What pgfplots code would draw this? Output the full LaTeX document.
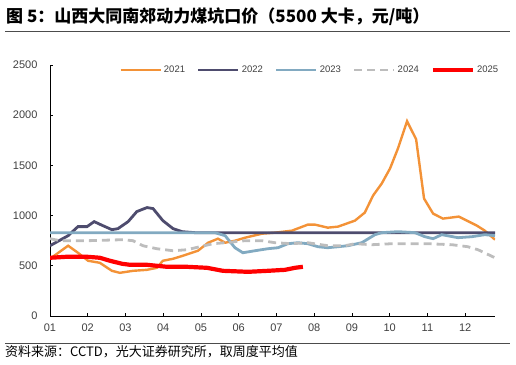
\documentclass[border=0pt]{standalone}
\usepackage{fontspec}
\usepackage{pgfplots}
\pgfplotsset{compat=1.18}
\setmainfont{Liberation Sans}
\newfontfamily\cjk{Noto Sans CJK SC}
\definecolor{c21}{HTML}{F39237}
\definecolor{c22}{HTML}{4E4C6E}
\definecolor{c23}{HTML}{82AAC1}
\definecolor{c24}{HTML}{BDBDBD}
\definecolor{c25}{HTML}{FF0000}
\definecolor{tickc}{HTML}{404040}
\begin{document}
\begin{tikzpicture}
\path[use as bounding box] (0pt,0pt) rectangle (516pt,364pt);
\node[anchor=west,inner sep=0pt,font=\cjk\bfseries\fontsize{17}{20}\selectfont] at (6pt,347pt) {图 5：山西大同南郊动力煤坑口价（5500 大卡，元/吨）};
\draw[line width=1pt,color=black!70] (5pt,332pt) -- (510pt,332pt);
\draw[line width=0.8pt,color=black!70] (5pt,21pt) -- (510pt,21pt);
\node[anchor=west,inner sep=0pt,font=\cjk\fontsize{13}{15}\selectfont] at (5pt,12pt) {资料来源：CCTD，光大证券研究所，取周度平均值};
\begin{axis}[
  scale only axis, width=445pt, height=251pt,
  anchor=south west, at={(50pt,48pt)},
  xmin=0, xmax=11.79, ymin=0, ymax=2500,
  axis x line*=bottom, axis y line*=left,
  axis line style={black, line width=0.9pt},
  tick align=inside,
  major tick length=3pt,
  tick style={black, line width=0.8pt},
  xtick={0,1,2,3,4,5,6,7,8,9,10,11},
  xticklabels={01,02,03,04,05,06,07,08,09,10,11,12},
  ytick={0,500,1000,1500,2000,2500},
  /pgf/number format/assume math mode=true,
  /pgf/number format/set thousands separator={},
  tick label style={font=\fontsize{11}{13}\selectfont, text=tickc},
  yticklabel style={xshift=-9pt},
  xticklabel style={yshift=-4pt},
  legend columns=5,
  legend style={draw=none, fill=none, at={(0.584,0.98)}, anchor=center,
    font=\fontsize{9.5}{11}\selectfont, text=tickc,
    /tikz/every even column/.append style={column sep=10pt}},
  legend image code/.code={\draw[#1] (0pt,0pt) -- (40pt,0pt);},
]
\addplot[c21, line width=2.4pt] coordinates {(0,570)(0.48,700)(0.74,630)(1.01,550)(1.32,530)(1.64,450)(1.85,430)(2.20,450)(2.57,460)(2.83,480)(2.99,550)(3.26,570)(3.52,600)(3.92,650)(4.19,730)(4.45,770)(4.64,730)(4.90,750)(5.17,780)(5.62,820)(5.96,830)(6.41,850)(6.83,910)(7.02,910)(7.36,880)(7.63,890)(8.08,950)(8.34,1030)(8.56,1200)(8.79,1320)(9.01,1470)(9.22,1670)(9.46,1940)(9.70,1760)(9.91,1170)(10.15,1020)(10.41,970)(10.83,990)(11.31,900)(11.52,850)(11.79,760)};
\addlegendentry{2021}
\addplot[c22, line width=2.8pt] coordinates {(0,700)(0.48,800)(0.74,890)(0.98,890)(1.17,940)(1.40,900)(1.64,860)(1.80,870)(2.07,940)(2.30,1040)(2.57,1080)(2.73,1070)(2.99,950)(3.26,870)(3.50,840)(3.84,830)(11.79,830)};
\addlegendentry{2022}
\addplot[c23, line width=2.8pt] coordinates {(0,830)(4.37,830)(4.64,800)(4.90,680)(5.11,630)(5.43,650)(5.77,670)(6.04,680)(6.30,720)(6.57,730)(6.83,720)(7.10,690)(7.36,680)(7.63,690)(7.89,700)(8.26,730)(8.61,810)(8.79,830)(9.22,840)(9.67,830)(9.93,790)(10.15,770)(10.38,810)(10.81,780)(11.18,790)(11.52,810)(11.79,800)};
\addlegendentry{2023}
\addplot[c24, line width=2.8pt, dash pattern=on 8pt off 5pt] coordinates {(0,770)(0.27,750)(1.0,750)(1.93,760)(2.20,750)(2.46,700)(2.83,670)(3.26,650)(3.63,660)(3.97,690)(4.32,720)(4.64,730)(5.17,750)(5.62,750)(5.96,730)(6.41,720)(6.83,730)(7.36,700)(7.81,700)(8.08,720)(8.53,710)(9.06,720)(10.01,720)(10.65,710)(11.07,690)(11.34,660)(11.79,580)};
\addlegendentry{2024}
\addplot[c25, line width=4.2pt] coordinates {(0,580)(0.45,590)(0.98,590)(1.32,580)(1.59,550)(1.91,520)(2.12,510)(2.57,510)(3.10,490)(3.63,490)(4.16,480)(4.58,450)(5.25,440)(5.77,450)(6.23,460)(6.49,480)(6.70,490)};
\addlegendentry{2025}
\end{axis}
\end{tikzpicture}
\end{document}
